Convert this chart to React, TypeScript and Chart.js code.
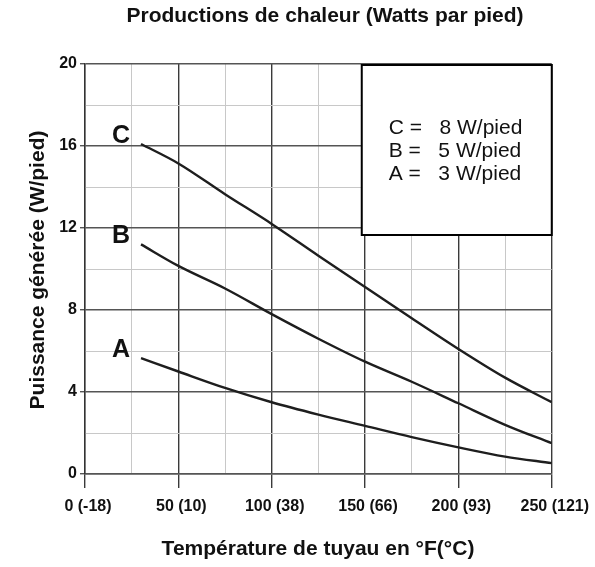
import { useEffect, useRef } from 'react';
import { Chart, registerables } from 'chart.js';

Chart.register(...registerables);

// Pipe temperature (°F) at which each heat output is read
const temperaturesF = [30, 50, 75, 100, 125, 150, 175, 200, 225, 250];

// Heat output (W/pied) of each cable grade
const cableC = [16.1, 15.15, 13.65, 12.2, 10.65, 9.12, 7.6, 6.1, 4.7, 3.5];
const cableB = [11.2, 10.15, 9.05, 7.8, 6.6, 5.48, 4.5, 3.45, 2.4, 1.5];
const cableA = [5.65, 5.0, 4.2, 3.5, 2.9, 2.35, 1.8, 1.3, 0.85, 0.53];

const seriesNames = ['C', 'B', 'A'];
const ratingLines = ['C =   8 W/pied', 'B =   5 W/pied', 'A =   3 W/pied'];

const xTickValues = [0, 50, 100, 150, 200, 250];
const xTickLabels = ['0 (-18)', '50 (10)', '100 (38)', '150 (66)', '200 (93)', '250 (121)'];
const yTickValues = [0, 4, 8, 12, 16, 20];

const chartTitle = 'Productions de chaleur (Watts par pied)';
const xAxisTitle = 'Température de tuyau en °F(°C)';
const yAxisTitle = 'Puissance générée (W/pied)';

const FONT = '"Liberation Sans", Arial, sans-serif';

const decorations = {
  id: 'decorations',
  afterDraw(chart: any) {
    const { ctx, chartArea, scales } = chart;
    ctx.save();

    // curve letters next to the start of each curve
    ctx.fillStyle = '#111';
    ctx.font = `bold 25px ${FONT}`;
    ctx.textAlign = 'right';
    ctx.textBaseline = 'middle';
    chart.data.datasets.forEach((ds: any, i: number) => {
      const p = ds.data[0];
      const px = scales.x.getPixelForValue(p.x);
      const py = scales.y.getPixelForValue(p.y);
      ctx.fillText(seriesNames[i], px - 11, py - 8);
    });

    // rating box in the upper right corner
    const boxW = 190;
    const boxH = 170;
    const bx = chartArea.right - boxW;
    const by = chartArea.top + 1;
    ctx.fillStyle = '#fff';
    ctx.fillRect(bx, by, boxW, boxH);
    ctx.strokeStyle = '#000';
    ctx.lineWidth = 2;
    ctx.strokeRect(bx, by, boxW, boxH);
    ctx.fillStyle = '#111';
    ctx.font = `21px ${FONT}`;
    ctx.textAlign = 'left';
    ctx.textBaseline = 'alphabetic';
    ratingLines.forEach((line, i) => {
      ctx.fillText(line, bx + 27, by + 69 + i * 23);
    });

    // titles
    ctx.font = `bold 21px ${FONT}`;
    ctx.textAlign = 'center';
    ctx.fillText(chartTitle, 325, 22);
    ctx.fillText(xAxisTitle, 318, 555);
    ctx.translate(44, 270);
    ctx.rotate(-Math.PI / 2);
    ctx.fillText(yAxisTitle, 0, 0);
    ctx.restore();
  },
};

export default function App() {
  const canvasRef = useRef<HTMLCanvasElement | null>(null);

  useEffect(() => {
    if (!canvasRef.current) return;
    const toPoints = (vals: number[]) => vals.map((v, i) => ({ x: temperaturesF[i], y: v }));
    const lineStyle = {
      borderColor: '#1e1e1e',
      borderWidth: 2.4,
      pointRadius: 0,
      cubicInterpolationMode: 'monotone' as const,
      fill: false,
    };

    const chart = new Chart(canvasRef.current, {
      type: 'line',
      data: {
        datasets: [
          { label: 'C', data: toPoints(cableC), ...lineStyle },
          { label: 'B', data: toPoints(cableB), ...lineStyle },
          { label: 'A', data: toPoints(cableA), ...lineStyle },
        ],
      },
      options: {
        animation: false,
        responsive: false,
        layout: { padding: { top: 64, right: 43, left: 0, bottom: 0 } },
        plugins: {
          legend: { display: false },
          title: { display: false },
          tooltip: { enabled: false },
        },
        scales: {
          x: {
            type: 'linear',
            min: 0,
            max: 250,
            afterFit: (scale: any) => {
              scale.height = 93;
            },
            ticks: {
              stepSize: 25,
              autoSkip: false,
              maxRotation: 0,
              padding: 9,
              labelOffset: 3,
              color: '#111',
              font: { family: FONT, size: 16, weight: 'bold' },
              callback: (value: any) => {
                const i = xTickValues.indexOf(Number(value));
                return i >= 0 ? xTickLabels[i] : '';
              },
            },
            grid: {
              color: (c: any) => (c.tick && c.tick.value % 50 === 0 ? '#3a3a3a' : '#c8c8c8'),
              lineWidth: (c: any) => (c.tick && c.tick.value % 50 === 0 ? 1.4 : 1),
              tickColor: (c: any) => (c.tick && c.tick.value % 50 === 0 ? '#3a3a3a' : 'rgba(0,0,0,0)'),
              tickLength: 14,
            },
            border: { color: '#555', width: 1.4 },
          },
          y: {
            type: 'linear',
            min: 0,
            max: 20,
            afterFit: (scale: any) => {
              scale.width = 85;
            },
            ticks: {
              stepSize: 2,
              autoSkip: false,
              padding: 3,
              color: '#111',
              font: { family: FONT, size: 16, weight: 'bold' },
              callback: (value: any) => (yTickValues.includes(Number(value)) ? String(value) : ''),
            },
            grid: {
              color: (c: any) => (c.tick && c.tick.value % 4 === 0 ? '#555' : '#c8c8c8'),
              lineWidth: (c: any) => (c.tick && c.tick.value % 4 === 0 ? 1.4 : 1),
              tickColor: (c: any) => (c.tick && c.tick.value % 4 === 0 ? '#555' : 'rgba(0,0,0,0)'),
              tickLength: 5,
            },
            border: { color: '#333', width: 1.4 },
          },
        },
      },
      plugins: [decorations],
    });

    return () => chart.destroy();
  }, []);

  return (
    <div style={{ position: 'absolute', left: 0, top: 0, width: 595, height: 567, background: '#fff' }}>
      <canvas ref={canvasRef} width={595} height={567} style={{ display: 'block' }} />
    </div>
  );
}
